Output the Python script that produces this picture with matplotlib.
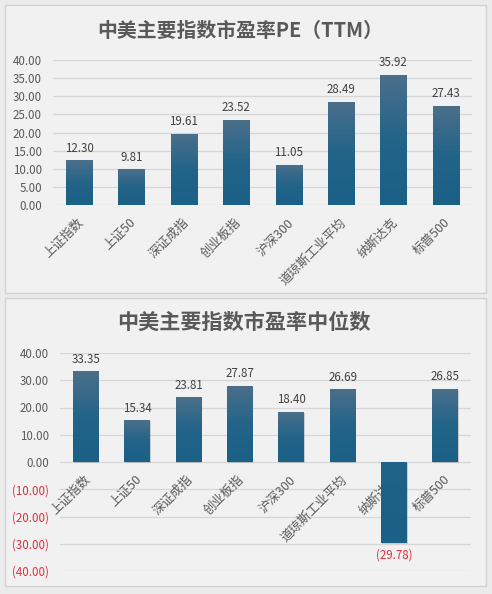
import numpy as np
import matplotlib
matplotlib.use("Agg")
import matplotlib.pyplot as plt
from matplotlib.patches import Rectangle
from matplotlib.colors import LinearSegmentedColormap
from matplotlib import patheffects as pe

plt.rcParams['font.family'] = ['Noto Sans CJK SC', 'DejaVu Sans']

categories = ['上证指数', '上证50', '深证成指', '创业板指', '沪深300', '道琼斯工业平均', '纳斯达克', '标普500']
pe_ttm = [12.30, 9.81, 19.61, 23.52, 11.05, 28.49, 35.92, 27.43]
pe_median = [33.35, 15.34, 23.81, 27.87, 18.40, 26.69, -29.78, 26.85]
title_top = '中美主要指数市盈率PE（TTM）'
title_bottom = '中美主要指数市盈率中位数'
yticks_top = [0, 5, 10, 15, 20, 25, 30, 35, 40]
yticks_bottom = [-40, -30, -20, -10, 0, 10, 20, 30, 40]

W, H = 492, 594
fig = plt.figure(figsize=(W / 100, H / 100), dpi=100)
fig.patch.set_facecolor('#ebebeb')

TXT = '#595959'
LBL = '#404040'
RED = '#e0303a'
GRID = '#d6d6d6'
cmap = LinearSegmentedColormap.from_list('g', ['#1b6086', '#236489', '#4b6f8b'])


def fx(px):
    return px / W


def fy(py):
    return 1 - py / H


# panels
for (x0, y0, x1, y1) in [(5, 5, 486, 293), (5, 298, 486, 586)]:
    fig.patches.append(Rectangle((fx(x0), fy(y1)), fx(x1 - x0), (y1 - y0) / H,
                                 transform=fig.transFigure, facecolor='#f1f1f1',
                                 edgecolor='#d2d2d2', linewidth=1.0, zorder=-5))


def fmt(v):
    return '({:.2f})'.format(abs(v)) if v < 0 else '{:.2f}'.format(v)


def draw(ax, vals, yticks, ylim):
    ax.set_facecolor('none')
    ax.set_xlim(-0.5, len(vals) - 0.5)
    ax.set_ylim(*ylim)
    for s in ax.spines.values():
        s.set_visible(False)
    ax.set_xticks([])
    ax.set_yticks(yticks)
    ax.set_yticklabels([fmt(t) for t in yticks], fontsize=8.3)
    for t, lab in zip(yticks, ax.get_yticklabels()):
        lab.set_color(RED if t < 0 else TXT)
    ax.tick_params(axis='y', length=0, pad=8)
    for t in yticks:
        ax.axhline(t, color=GRID, linewidth=0.9, zorder=1)
    x = np.arange(len(vals))
    bars = ax.bar(x, vals, width=0.5, color='#1f6288', zorder=3,
                  path_effects=[pe.SimplePatchShadow(offset=(0.6, -0.6), shadow_rgbFace='#7f8c95', alpha=0.35),
                                pe.Normal()])
    grad = np.linspace(0, 1, 100).reshape(-1, 1)
    for b in bars:
        bx, by = b.get_x(), b.get_y()
        bw, bh = b.get_width(), b.get_height()
        lo, hi = min(by, by + bh), max(by, by + bh)
        if hi > 0:
            im = ax.imshow(grad, cmap=cmap, origin='lower', aspect='auto',
                           extent=(bx, bx + bw, lo, hi), zorder=4, vmin=0, vmax=1)
        else:
            im = ax.imshow(grad * 0.35, cmap=cmap, origin='lower', aspect='auto',
                           extent=(bx, bx + bw, lo, hi), zorder=4, vmin=0, vmax=1)
        im.set_clip_path(b)
    ax.set_xlim(-0.5, len(vals) - 0.5)
    ax.set_ylim(*ylim)
    for i, v in enumerate(vals):
        if v >= 0:
            ax.annotate(fmt(v), xy=(i, v), xytext=(0, 4), textcoords='offset points',
                        ha='center', va='bottom', fontsize=8.3, color=LBL, zorder=5)
        else:
            ax.annotate(fmt(v), xy=(i, v), xytext=(0, -4), textcoords='offset points',
                        ha='center', va='top', fontsize=8.3, color=RED, zorder=5)
    for i, c in enumerate(categories):
        ax.annotate(c, xy=(i, 0), xytext=(-1.5, -8), textcoords='offset points',
                    ha='right', va='top', rotation=45, rotation_mode='anchor',
                    fontsize=9, color=TXT, zorder=2, annotation_clip=False)


ax1 = fig.add_axes([fx(53), fy(205), fx(472 - 53), (205 - 60) / H])
draw(ax1, pe_ttm, yticks_top, (0, 40))
ax2 = fig.add_axes([fx(60), fy(571), fx(471 - 60), (571 - 353) / H])
draw(ax2, pe_median, yticks_bottom, (-40, 40))

fig.text(fx(240), fy(30), title_top, ha='center', va='center', fontsize=14.3,
         fontweight='bold', color=TXT)
fig.text(fx(244), fy(322), title_bottom, ha='center', va='center', fontsize=15.2,
         fontweight='bold', color=TXT)

fig.savefig('out.png', dpi=100, facecolor=fig.get_facecolor())
